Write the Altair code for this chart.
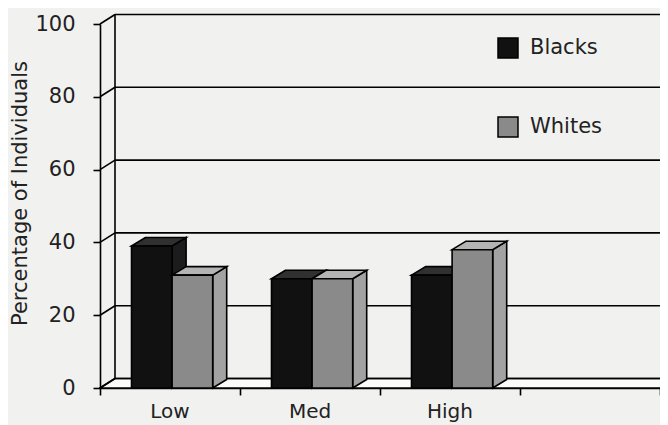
import altair as alt
import pandas as pd

# ---- data ----
categories = ["Low", "Med", "High"]
series = ["Blacks", "Whites"]
blacks = [39, 30, 31]
whites = [31, 30, 38]
y_ticks = [0, 20, 40, 60, 80, 100]
x_ticks = [0, 1, 2, 3, 4]
n_slots = 4

# ---- styling / layout ----
FONT = "DejaVu Sans"
W, H = 560, 364
WALL_DX_PX, WALL_DY_PX = 15, 9.5
BAR_DX_PX, BAR_DY_PX = 14, 8.5
BAR_W = 0.29
GROUP_SHIFT = 0.015
ux = W / n_slots
uy = H / 100
wdx, wdy = WALL_DX_PX / ux, WALL_DY_PX / uy
bdx, bdy = BAR_DX_PX / ux, BAR_DY_PX / uy

front_fill = {"Blacks": "#111111", "Whites": "#8a8a8a"}
top_fill = {"Blacks": "#303030", "Whites": "#b4b4b4"}
side_fill = {"Blacks": "#1c1c1c", "Whites": "#a2a2a2"}
LW = 1.6

values = {"Blacks": blacks, "Whites": whites}

front_rows, top_rows, side_rows = [], [], []
for i, cat in enumerate(categories):
    c = i + 0.5 + GROUP_SHIFT
    for s in series:
        v = values[s][i]
        x0 = c - BAR_W if s == "Blacks" else c
        x1 = x0 + BAR_W
        bid = f"{cat}-{s}"
        front_rows.append({"bar": bid, "series": s, "x0": x0, "x1": x1, "v": v})
        top_rows.append({"bar": bid, "series": s, "y": v, "xa": x0, "xb": x1})
        top_rows.append({"bar": bid, "series": s, "y": v + bdy, "xa": x0 + bdx, "xb": x1 + bdx})
        side_rows.append({"bar": bid, "series": s, "x": x1, "ya": v, "yb": 0})
        side_rows.append({"bar": bid, "series": s, "x": x1 + bdx, "ya": v + bdy, "yb": bdy})

front_df = pd.DataFrame(front_rows)
top_df = pd.DataFrame(top_rows)
side_df = pd.DataFrame(side_rows)

xs = alt.Scale(domain=[0, n_slots], nice=False, zero=False)
ys = alt.Scale(domain=[0, 100], nice=False, zero=False)

Y_AXIS = alt.Axis(
    values=y_ticks, tickSize=7, labelPadding=18, labelFontSize=21, labelFont=FONT,
    labelColor="#222", title="Percentage of Individuals", titleFontSize=21,
    titleFont=FONT, titleFontWeight="normal", titleColor="#222", titlePadding=4,
    titleY=169,
    grid=False, domainColor="black", domainWidth=LW, tickColor="black", tickWidth=LW)
X_AXIS = alt.Axis(
    values=x_ticks, labels=False, tickSize=7, title=None, grid=False,
    domainColor="black", domainWidth=LW, tickColor="black", tickWidth=LW)


def X(f):
    return alt.X(f, scale=xs, axis=X_AXIS)


def Y(f):
    return alt.Y(f, scale=ys, axis=Y_AXIS)


floor_df = pd.DataFrame({"y": [0, wdy], "xa": [0, wdx], "xb": [n_slots, n_slots + wdx]})
floor = alt.Chart(floor_df).mark_area(orient="horizontal", fill="#fbfbfa", stroke="black",
                                      strokeWidth=LW).encode(
    y=Y("y:Q"), x=X("xa:Q"), x2="xb:Q",
)

grid_df = pd.DataFrame({"v": y_ticks})
grid_df["yb"] = grid_df["v"] + wdy
grid_df["xa"] = wdx
grid_df["xb"] = n_slots + wdx
grid_df["x0"] = 0.0
grid = alt.Chart(grid_df).mark_rule(color="black", strokeWidth=LW).encode(
    x=X("xa:Q"), x2="xb:Q", y=Y("yb:Q"),
)
diag = alt.Chart(grid_df).mark_rule(color="black", strokeWidth=LW).encode(
    x=X("x0:Q"), x2="xa:Q", y=Y("v:Q"), y2="yb:Q",
)
wall_df = pd.DataFrame({"x": [wdx], "ya": [wdy], "yb": [100 + wdy]})
wall = alt.Chart(wall_df).mark_rule(color="black", strokeWidth=LW).encode(
    x=X("x:Q"), y=Y("ya:Q"), y2="yb:Q",
)

layers = [floor, grid, diag, wall]
for s in series:
    side = alt.Chart(side_df[side_df.series == s]).mark_area(
        orient="vertical", fill=side_fill[s], stroke="black", strokeWidth=LW).encode(
        x=X("x:Q"), y=Y("ya:Q"), y2="yb:Q", detail="bar:N",
    )
    top = alt.Chart(top_df[top_df.series == s]).mark_area(
        orient="horizontal", fill=top_fill[s], stroke="black", strokeWidth=LW).encode(
        y=Y("y:Q"), x=X("xa:Q"), x2="xb:Q", detail="bar:N",
    )
    front = alt.Chart(front_df[front_df.series == s]).mark_rect(
        stroke="black", strokeWidth=LW).encode(
        x=X("x0:Q"), x2="x1:Q",
        y=Y("v:Q"), y2=alt.datum(0),
        color=alt.Color("series:N",
                        scale=alt.Scale(domain=series, range=[front_fill[k] for k in series]),
                        legend=alt.Legend(orient="none", legendX=397, legendY=13, title=None,
                                          symbolType="square", symbolSize=400,
                                          symbolStrokeColor="black", symbolStrokeWidth=1.5,
                                          symbolOpacity=1, labelFontSize=21, labelFont=FONT,
                                          labelColor="#222", labelOffset=11, rowPadding=53)),
    )
    layers += [side, top, front]

lab_df = pd.DataFrame({"cat": categories, "xc": [i + 0.5 for i in range(len(categories))]})
labels = alt.Chart(lab_df).mark_text(fontSize=20, font=FONT, color="#222",
                                     baseline="middle").encode(
    x=X("xc:Q"),
    y=alt.value(H + 24),
    text="cat:N",
)
layers.append(labels)

chart = alt.layer(*layers).properties(
    width=W, height=H,
    autosize=alt.AutoSizeParams(type="none"),
    padding={"left": 92, "top": 16, "right": 0, "bottom": 37},
    background="#f1f1ef",
).configure_view(stroke=None)

chart.save("out.html", embed_options={"renderer": "svg", "actions": False})
